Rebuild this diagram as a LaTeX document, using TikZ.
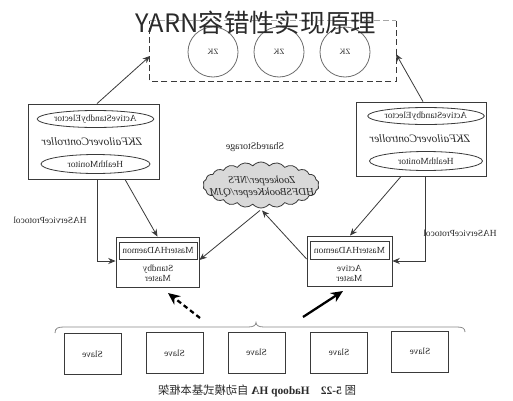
\documentclass[tikz,border=0pt]{standalone}
\usepackage{fontspec}
\setmainfont{Liberation Serif}
\newfontfamily\cjk{Noto Sans CJK SC}
\usepackage{graphicx}
\usetikzlibrary{arrows.meta,shapes.geometric,shapes.symbols,calc}
\newcommand\mirtxt[1]{\scalebox{-1}[1]{#1}}
\definecolor{lc}{HTML}{3A3A3A}
\definecolor{tc}{HTML}{2A2A2A}
\definecolor{cc}{HTML}{6E6E6E}
\definecolor{cloudfill}{HTML}{D9D9D9}
\tikzset{
  ln/.style={draw=lc, line width=0.6pt},
  arr/.style={ln, -{Stealth[length=5.5pt,width=4.5pt]}},
  bigarr/.style={draw=black, line width=1.7pt, -{Stealth[length=9pt,width=8pt]}},
  txt/.style={font=\fontsize{7}{7.5}\selectfont, text=tc, inner sep=0pt},
  zkc/.style={circle, draw=cc, line width=0.6pt, minimum size=50*0.75pt, inner sep=0pt, font=\fontsize{6}{7}\selectfont, text=tc},
  box/.style={rectangle, ln, inner sep=0pt},
  ell/.style={ellipse, ln, inner sep=0pt, font=\fontsize{7}{7.5}\selectfont, text=tc},
  slavebox/.style={box, minimum width=57*0.75pt, minimum height=41*0.75pt, font=\fontsize{7}{7.5}\selectfont, text=tc},
}
\begin{document}
\begin{tikzpicture}[x=0.75pt,y=-0.75pt]
\useasboundingbox (0,0) rectangle (513,400);
\fill[white] (0,0) rectangle (513,400);

% ZooKeeper ensemble
\node[minimum width=246*0.75pt, minimum height=60*0.75pt, inner sep=0pt] (zkbox) at (273,51) {};
\draw[draw=lc!45, line width=1.1pt, dash pattern=on 4.5pt off 2.5pt] (zkbox.north west) -- (zkbox.north east);
\draw[draw=lc, line width=1.1pt, dash pattern=on 4.5pt off 2.5pt] (zkbox.north east) -- (zkbox.south east) -- (zkbox.south west) -- (zkbox.north west);
\node[zkc] (zk1) at (213,52) {\mirtxt{ZK}};
\node[zkc] (zk2) at (279,52) {\mirtxt{ZK}};
\node[zkc] (zk3) at (345,52) {\mirtxt{ZK}};
\coordinate (zkL) at (150,56);
\coordinate (zkR) at (396,54);

% Title
\node[anchor=base, font=\cjk\fontsize{19}{19}\selectfont, text=tc, inner sep=0pt] (title) at (256,32) {YARN容错性实现原理};

% Left ZKFC
\node[box, minimum width=131*0.75pt, minimum height=75*0.75pt] (zkfcL) at (93.5,141.5) {};
\node[ell, minimum width=109*0.75pt, minimum height=17*0.75pt] (elecL) at (95.5,119) {\mirtxt{ActiveStandbyElector}};
\node[txt, font=\itshape\fontsize{8.5}{9}\selectfont] (zkfcLt) at (92,142) {\mirtxt{ZKFailoverController}};
\node[ell, minimum width=109*0.75pt, minimum height=19*0.75pt] (hmL) at (95.5,164) {\mirtxt{HealthMonitor}};

% Right ZKFC
\node[box, minimum width=130*0.75pt, minimum height=74*0.75pt] (zkfcR) at (421,139) {};
\node[ell, minimum width=113*0.75pt, minimum height=17*0.75pt] (elecR) at (426,116) {\mirtxt{ActiveStandbyElector}};
\node[txt, font=\itshape\fontsize{8.5}{9}\selectfont] (zkfcRt) at (420,139) {\mirtxt{ZKFailoverController}};
\node[ell, minimum width=113*0.75pt, minimum height=19*0.75pt] (hmR) at (426,161) {\mirtxt{HealthMonitor}};

% Shared storage
\node[txt, font=\fontsize{7.5}{8}\selectfont] (sslabel) at (255,147) {\mirtxt{SharedStorage}};
\node[cloud, cloud puffs=22, cloud puff arc=100, aspect=2.5, draw=lc, line width=0.6pt, fill=cloudfill, minimum width=116*0.75pt, minimum height=46*0.75pt, inner sep=0pt] (cloud) at (261,185) {};
\node[txt, font=\itshape\fontsize{8}{9.5}\selectfont, align=center] (cloudt) at (262,187) {\mirtxt{\begin{tabular}{@{}c@{}}Zookeeper/NFS\\HDFSBookKeeper/QJM\end{tabular}}};

% Standby master
\node[box, minimum width=83*0.75pt, minimum height=50*0.75pt] (standby) at (157.5,262) {};
\node[box, minimum width=78*0.75pt, minimum height=17*0.75pt, font=\fontsize{7}{7.5}\selectfont, text=tc] (hadL) at (158,250.5) {\mirtxt{MasterHADaemon}};
\node[txt] (standbyt) at (158,274) {\mirtxt{\begin{tabular}{@{}c@{}}Standby\\Master\end{tabular}}};

% Active master
\node[box, minimum width=85*0.75pt, minimum height=50*0.75pt] (active) at (349.5,261) {};
\node[box, minimum width=79*0.75pt, minimum height=18*0.75pt, font=\fontsize{7}{7.5}\selectfont, text=tc] (hadR) at (349.5,250) {\mirtxt{MasterHADaemon}};
\node[txt] (activet) at (349.5,274) {\mirtxt{\begin{tabular}{@{}c@{}}Active\\Master\end{tabular}}};

% Connectors
\draw[arr] ($(zkfcL.north)+(3.5,0)$) -- (zkL);
\draw[arr] ($(zkfcR.north)+(2,0)$) -- (zkR);
\draw[arr] ($(zkfcL.south)+(3.5,0)$) |- ($(standby.west)+(0,-1)$);
\draw[arr] ($(zkfcL.south)+(31.5,0)$) -- (standby.north);
\draw[arr] ($(cloud.south)+(-1,2)$) -- ($(standby.east)+(0,-2)$);
\draw[arr] ($(active.west)+(0,-2)$) -- ($(cloud.south)+(1,2)$);
\draw[arr] ($(zkfcR.south)+(-20,0)$) -- ($(active.north)+(0.5,0)$);
\draw[arr] ($(zkfcR.south)+(4,0)$) |- (active.east);
\node[txt] (protoL) at (50,220) {\mirtxt{HAServiceProtocol}};
\node[txt] (protoR) at (460,233) {\mirtxt{HAServiceProtocol}};

% Thick arrows from slaves
\coordinate (sbS) at (200,318);
\coordinate (sbE) at (168,293);
\coordinate (acS) at (303,317);
\coordinate (acE) at (343,291);
\draw[bigarr, dash pattern=on 3.5pt off 2.5pt] (sbS) -- (sbE);
\draw[bigarr] (acS) -- (acE);

% Brace
\draw[draw=lc!60, line width=0.6pt] (55,333) .. controls (55,328) and (58,327) .. (64,327) -- (248,327) .. controls (253,327) and (256,325.5) .. (256,322.5) .. controls (256,325.5) and (259,327) .. (264,327) -- (457,327) .. controls (462,327) and (465,328) .. (465,332);

% Slaves
\node[slavebox] (s1) at (92.5,354) {\mirtxt{Slave}};
\node[slavebox] (s2) at (174.5,353) {\mirtxt{Slave}};
\node[slavebox] (s3) at (256.5,352.5) {\mirtxt{Slave}};
\node[slavebox] (s4) at (339,352.5) {\mirtxt{Slave}};
\node[slavebox] (s5) at (420,351.5) {\mirtxt{Slave}};

% Caption
\node[txt, font=\fontsize{8.5}{9}\selectfont] (caption) at (257,391) {\mirtxt{{\cjk 图}\ \textbf{5-22}\quad\textbf{Hadoop HA} {\cjk 自动模式基本框架}}};
\end{tikzpicture}
\end{document}
